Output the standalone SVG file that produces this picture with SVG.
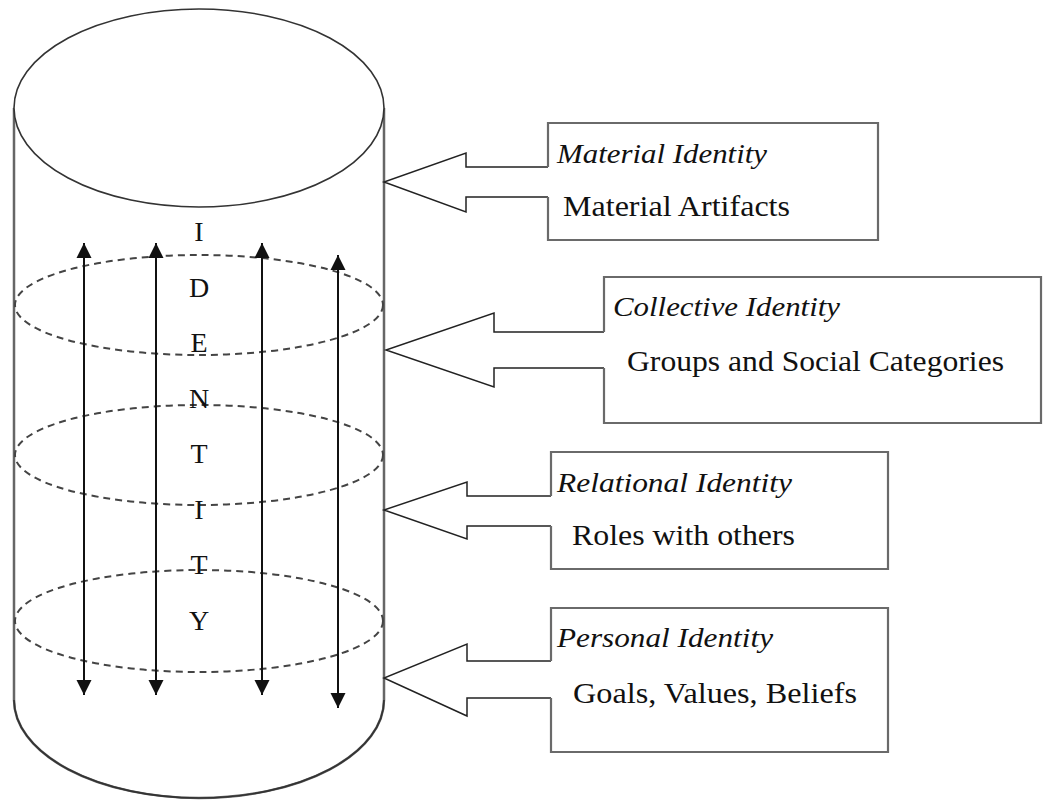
<svg xmlns="http://www.w3.org/2000/svg" width="1047" height="800" viewBox="0 0 1047 800">
  <style>
    .wall { fill: #ffffff; stroke: #666666; stroke-width: 2.5; }
    .cap { fill: #ffffff; stroke: #333333; stroke-width: 1.6; }
    .rim { fill: none; stroke: #333333; stroke-width: 1.6; }
    .layer { fill: none; stroke: #444444; stroke-width: 2; stroke-dasharray: 7 5; }
    .flow { stroke: #111111; stroke-width: 2; fill: none; marker-start: url(#tipUp); marker-end: url(#tipDown); }
    .box { fill: #ffffff; stroke: #6a6a6a; stroke-width: 2.2; }
    .pointer { fill: #ffffff; stroke: #222222; stroke-width: 1.5; stroke-linejoin: miter; }
    .letter { font-family: "Liberation Serif", "Times New Roman", serif; font-size: 28px; fill: #111111; text-anchor: middle; }
    .title { font-family: "Liberation Serif", "Times New Roman", serif; font-size: 28px; font-style: italic; fill: #111111; }
    .desc { font-family: "Liberation Serif", "Times New Roman", serif; font-size: 29px; fill: #111111; }
  </style>
  <defs>
    <marker id="tipUp" markerUnits="userSpaceOnUse" markerWidth="18" markerHeight="18" refX="8" refY="1" orient="0">
      <path d="M0.5,16 L8,1 L15.5,16 Z" fill="#111111"/>
    </marker>
    <marker id="tipDown" markerUnits="userSpaceOnUse" markerWidth="18" markerHeight="18" refX="8" refY="16" orient="0">
      <path d="M0.5,1 L8,16 L15.5,1 Z" fill="#111111"/>
    </marker>
  </defs>

  <rect width="1047" height="800" fill="#ffffff"/>

  <!-- the identity cylinder -->
  <g id="cylinder">
    <path class="wall" d="M14,108 V700 A185,98 0 0 0 384,700 V108"/>
    <path class="rim" d="M14,700 A185,98 0 0 0 384,700"/>
    <ellipse class="cap" cx="199" cy="108" rx="185" ry="99"/>
    <ellipse class="layer" cx="199" cy="305" rx="184" ry="50"/>
    <ellipse class="layer" cx="199" cy="455" rx="184" ry="50"/>
    <ellipse class="layer" cx="199" cy="621" rx="184" ry="51"/>
    <line class="flow" x1="84" y1="243" x2="84" y2="695"/>
    <line class="flow" x1="156" y1="243" x2="156" y2="695"/>
    <line class="flow" x1="262" y1="243" x2="262" y2="695"/>
    <line class="flow" x1="338" y1="255" x2="338" y2="708"/>
    <text class="letter" x="199" y="241">I</text>
    <text class="letter" x="199" y="297">D</text>
    <text class="letter" x="199" y="352">E</text>
    <text class="letter" x="199" y="408">N</text>
    <text class="letter" x="199" y="463">T</text>
    <text class="letter" x="199" y="519">I</text>
    <text class="letter" x="199" y="574">T</text>
    <text class="letter" x="199" y="630">Y</text>
  </g>

  <!-- block arrows pointing into the cylinder -->
  <g id="connectors">
    <polyline class="pointer" points="548,167 466,167 466,153 384,182 466,212 466,197 548,197"/>
    <polyline class="pointer" points="604,332 494,332 494,313 386,350 494,387 494,368 604,368"/>
    <polyline class="pointer" points="551,496 467,496 467,482 384,510 467,539 467,526 551,526"/>
    <polyline class="pointer" points="551,661 467,661 467,644 384,678 467,716 467,698 551,698"/>
  </g>

  <g id="material">
    <path class="box" d="M548,167 V123 H878 V240 H548 V197"/>
    <text class="title" x="557" y="163" textLength="210" lengthAdjust="spacingAndGlyphs">Material Identity</text>
    <text class="desc" x="563" y="216" textLength="227" lengthAdjust="spacingAndGlyphs">Material Artifacts</text>
  </g>

  <g id="collective">
    <path class="box" d="M604,332 V277 H1041 V423 H604 V368"/>
    <text class="title" x="613" y="316" textLength="227" lengthAdjust="spacingAndGlyphs">Collective Identity</text>
    <text class="desc" x="627" y="371" textLength="377" lengthAdjust="spacingAndGlyphs">Groups and Social Categories</text>
  </g>

  <g id="relational">
    <path class="box" d="M551,496 V452 H888 V569 H551 V526"/>
    <text class="title" x="557" y="492" textLength="235" lengthAdjust="spacingAndGlyphs">Relational Identity</text>
    <text class="desc" x="572" y="545" textLength="223" lengthAdjust="spacingAndGlyphs">Roles with others</text>
  </g>

  <g id="personal">
    <path class="box" d="M551,661 V608 H888 V752 H551 V698"/>
    <text class="title" x="557" y="647" textLength="216" lengthAdjust="spacingAndGlyphs">Personal Identity</text>
    <text class="desc" x="573" y="703" textLength="284" lengthAdjust="spacingAndGlyphs">Goals, Values, Beliefs</text>
  </g>
</svg>
